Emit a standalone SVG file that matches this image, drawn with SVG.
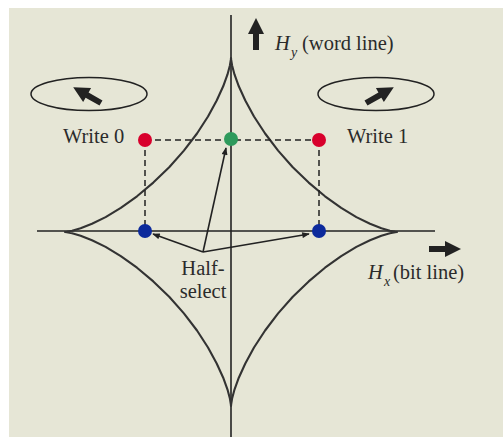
<svg xmlns="http://www.w3.org/2000/svg" xmlns:xlink="http://www.w3.org/1999/xlink" width="503" height="437" viewBox="0 0 503 437">
<defs>
<style>
.t{font-family:"Liberation Serif","Times New Roman","DejaVu Serif",serif;font-size:20.5px;fill:#2b2b2b}
.s{font-family:"Liberation Serif","Times New Roman","DejaVu Serif",serif;font-size:14px;fill:#2b2b2b;font-style:italic}
.i{font-style:italic}
.ax{stroke:#222;stroke-width:1.6;fill:none}
.curve{stroke:#333;stroke-width:2.1;fill:none;stroke-linejoin:round}
.dash{stroke:#222;stroke-width:1.5;stroke-dasharray:6 4;fill:none}
.ell{stroke:#222;stroke-width:1.5;fill:none}
.thin{stroke:#222;stroke-width:1.6;fill:none;marker-end:url(#ah)}
.big{fill:#222}
</style>
<marker id="ah" viewBox="0 0 10 8" refX="9" refY="4" markerWidth="9" markerHeight="6" markerUnits="userSpaceOnUse" orient="auto">
<path d="M0,0 L10,4 L0,8 Z" fill="#222"/>
</marker>
<path id="blk" d="M0,-3 L16,-3 L16,-8 L32,0 L16,8 L16,3 L0,3 Z"/>
</defs>
<rect x="0" y="0" width="503" height="437" fill="#ffffff"/>
<rect x="9" y="8" width="494" height="429" fill="#e6e6d6"/>

<g id="axes">
<line class="ax" x1="231" y1="15" x2="231" y2="437"/>
<line class="ax" x1="37" y1="231" x2="435" y2="231"/>
</g>

<g id="astroid">
<path class="curve" d="M397,232 L395.2,231.8 389.9,230.8 381.4,228.3 370.0,223.8 356.4,217.1 341.2,207.9 325.0,196.3 308.7,182.6 292.8,167.2 278.1,150.6 265.1,133.5 254.0,116.5 245.3,100.5 238.8,86.3 234.5,74.4 232.1,65.4 231.2,59.9 231,58 230.8,59.9 229.9,65.4 227.5,74.4 223.2,86.3 216.7,100.5 208.0,116.5 197.0,133.5 183.9,150.6 169.2,167.2 153.3,182.6 137.0,196.3 120.8,207.9 105.6,217.1 92.0,223.8 80.6,228.3 72.1,230.8 66.8,231.8 65,232 66.8,232.2 72.1,233.2 80.6,235.7 92.0,240.2 105.6,246.9 120.8,256.1 137.0,267.7 153.3,281.4 169.2,296.8 183.9,313.4 197.0,330.5 208.0,347.5 216.7,363.5 223.2,377.7 227.5,389.6 229.9,398.6 230.8,404.1 231,406 231.2,404.1 232.1,398.6 234.5,389.6 238.8,377.7 245.3,363.5 254.0,347.5 265.1,330.5 278.1,313.4 292.8,296.8 308.7,281.4 325.0,267.7 341.2,256.1 356.4,246.9 370.0,240.2 381.4,235.7 389.9,233.2 395.2,232.2 Z"/>
</g>

<g id="connectors">
<path class="dash" d="M145,140 H319 M145,140 V231 M319,140 V231"/>
<line class="thin" x1="203" y1="252" x2="153" y2="234"/>
<line class="thin" x1="203" y1="252" x2="309" y2="234"/>
<line class="thin" x1="203" y1="252" x2="226" y2="148"/>
</g>

<g id="write0-state">
<ellipse class="ell" cx="89" cy="94" rx="58" ry="16.5"/>
<use xlink:href="#blk" class="big" transform="translate(101,103) rotate(209.7)"/>
</g>
<g id="write1-state">
<ellipse class="ell" cx="376" cy="94" rx="58" ry="16.5"/>
<use xlink:href="#blk" class="big" transform="translate(366,103) rotate(-29.7)"/>
</g>

<g id="hy-axis-label">
<use xlink:href="#blk" class="big" transform="translate(256,50) rotate(-90)"/>
<text class="t i" x="275" y="50">H</text>
<text class="s" x="291" y="57">y</text>
<text class="t" x="302" y="50">(word line)</text>
</g>
<g id="hx-axis-label">
<use xlink:href="#blk" class="big" transform="translate(429,249)"/>
<text class="t i" x="368" y="279">H</text>
<text class="s" x="384" y="286">x</text>
<text class="t" x="393" y="279">(bit line)</text>
</g>

<g id="write0">
<circle cx="145" cy="140" r="7" fill="#d8002c"/>
<text class="t" x="63" y="143">Write 0</text>
</g>
<g id="write1">
<circle cx="319" cy="140" r="7" fill="#d8002c"/>
<text class="t" x="347" y="143">Write 1</text>
</g>
<g id="select">
<circle cx="231" cy="139" r="7" fill="#2e9a5c"/>
</g>
<g id="halfselect-left">
<circle cx="145" cy="231" r="7" fill="#0c2a9c"/>
</g>
<g id="halfselect-right">
<circle cx="319" cy="231" r="7" fill="#0c2a9c"/>
</g>
<g id="halfselect-label">
<text class="t" x="203" y="275" text-anchor="middle">Half-</text>
<text class="t" x="203" y="298" text-anchor="middle">select</text>
</g>
</svg>
